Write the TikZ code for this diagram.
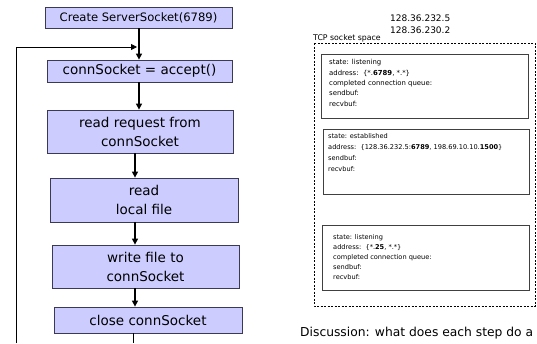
\documentclass[tikz,border=0pt]{standalone}
\usepackage{fontspec}
\setmainfont{DejaVu Sans}
\usetikzlibrary{arrows.meta}
\definecolor{boxfill}{HTML}{CCCCFF}
\definecolor{boxline}{HTML}{3A3A55}
\begin{document}
\begin{tikzpicture}[x=1pt,y=-1pt,
  flow/.style={draw=boxline,fill=boxfill,line width=0.8pt,align=center,inner sep=0pt},
  bigtxt/.style={font=\fontsize{13.5}{19}\selectfont},
  arr/.style={line width=1.3pt,-{Triangle[length=6pt,width=6pt]}},
  loopline/.style={line width=0.8pt},
  sockbox/.style={draw=black!75,line width=0.8pt},
  socktxt/.style={anchor=north west,align=left,inner sep=0pt,font=\fontsize{6.9}{10.3}\selectfont},
  iptxt/.style={anchor=west,inner sep=0pt,font=\fontsize{9}{12}\selectfont,align=left}]
\useasboundingbox (0,0) rectangle (537,343);
\clip (0,0) rectangle (537,343);
% flowchart
\node[flow,minimum width=187pt,minimum height=21pt,font=\fontsize{11.6}{13}\selectfont] (b1) at (138.5,17.5) {Create ServerSocket(6789)};
\node[flow,bigtxt,minimum width=185pt,minimum height=22pt] (b2) at (139.5,71) {connSocket = accept()};
\node[flow,bigtxt,minimum width=186pt,minimum height=43pt] (b3) at (140,131.5) {read request from\\connSocket};
\node[flow,bigtxt,minimum width=188pt,minimum height=44pt] (b4) at (144,200) {read\\local file};
\node[flow,bigtxt,minimum width=187pt,minimum height=43pt] (b5) at (145.5,266.5) {write file to\\connSocket};
\node[flow,bigtxt,minimum width=188pt,minimum height=26pt] (b6) at (148,320) {close connSocket};
\draw[arr] (b1.south -| 139,0) -- (b2.north -| 139,0);
\draw[arr] (b2.south -| 139,0) -- (b3.north -| 139,0);
\draw[arr] (b3.south -| 135,0) -- (b4.north -| 135,0);
\draw[arr] (b4.south -| 135,0) -- (b5.north -| 135,0);
\draw[arr] (b5.south -| 135,0) -- (b6.north -| 135,0);
\coordinate (loopbot) at (16,343);
\coordinate (loopcorner) at (16,47);
\coordinate (looptip) at (137,47);
\coordinate (b6end) at (133,343);
\draw[loopline,-{Triangle[length=6pt,width=6pt]}] (loopbot) -- (loopcorner) -- (looptip);
\draw[loopline] (b6.south -| b6end) -- (b6end);
% socket space
\node[iptxt] (ip) at (390,24) {128.36.232.5\\128.36.230.2};
\draw[dashed,line width=0.6pt,dash pattern=on 2pt off 1.5pt] (314,43) rectangle (535,306);
\node[anchor=south west,inner sep=0pt,font=\fontsize{7.8}{9}\selectfont] (tcp) at (313,42) {TCP socket space};
\draw[sockbox] (321,54) rectangle (528,118);
\node[socktxt] (s1) at (329,59.5) {state: listening\\address:\ \ \{*.\textbf{6789}, *.*\}\\completed connection queue:\\sendbuf:\\recvbuf:};
\draw[sockbox] (323,129) rectangle (529,194);
\node[socktxt,font=\fontsize{6.6}{11}\selectfont] (s2) at (328,133.5) {state: established\\address:\ \ \{128.36.232.5:\textbf{6789}, 198.69.10.10.\textbf{1500}\}\\sendbuf:\\recvbuf:};
\draw[sockbox] (322,225) rectangle (529,290);
\node[socktxt,font=\fontsize{6.6}{10}\selectfont] (s3) at (333,234) {state: listening\\address:\ \ \{*.\textbf{25}, *.*\}\\completed connection queue:\\sendbuf:\\recvbuf:};
\node[anchor=base west,inner sep=0pt,font=\fontsize{12.3}{14}\selectfont] (disc) at (300,336) {Discussion: what does each step do a};
\end{tikzpicture}
\end{document}
